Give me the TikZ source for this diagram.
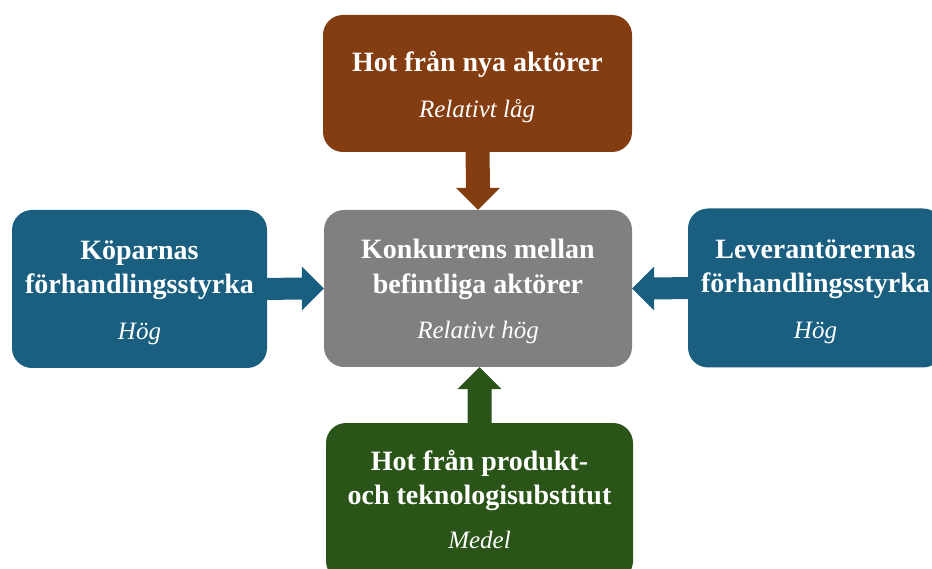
\documentclass[tikz,border=0pt]{standalone}
\usepackage{fontspec}
\setmainfont{Liberation Serif}
\usetikzlibrary{calc}
\definecolor{brn}{HTML}{843C11}
\definecolor{blu}{HTML}{1A5F80}
\definecolor{grn}{HTML}{2B5419}
\definecolor{gry}{HTML}{808080}
\tikzset{
  box/.style={rectangle, rounded corners=20pt, inner sep=0pt},
  hd/.style={text=white, font=\fontsize{28}{33}\selectfont\bfseries, anchor=base, inner sep=0pt},
  sub/.style={text=white, font=\fontsize{25}{30}\selectfont\itshape, anchor=base, inner sep=0pt},
}
\begin{document}
\begin{tikzpicture}[x=1pt,y=-1pt]
\useasboundingbox (0,0) rectangle (932,569);
\clip (0,0) rectangle (932,569);
% boxes
\node[box, fill=brn, minimum width=309pt, minimum height=137pt] (top) at (477.5,83.5) {};
\node[box, fill=gry, minimum width=308pt, minimum height=157pt] (center) at (478,288.5) {};
\node[box, fill=blu, minimum width=255pt, minimum height=158pt] (left) at (139.5,289) {};
\node[box, fill=blu, minimum width=255pt, minimum height=159pt] (right) at (815.5,288) {};
\node[box, fill=grn, minimum width=307pt, minimum height=158pt] (bottom) at (479.5,502) {};
% arrows
\fill[brn] ($(top.south)+(-12,-2)$) -- ($(center.north)+(-12,-22)$) -- ($(center.north)+(-22,-22)$) -- (center.north)
  -- ($(center.north)+(22,-22)$) -- ($(center.north)+(12,-22)$) -- ($(top.south)+(12,-2)$) -- cycle;
\fill[blu] ($(left.east)+(-2,-11)$) -- ($(center.west)+(-22,-11)$) -- ($(center.west)+(-22,-22)$) -- (center.west)
  -- ($(center.west)+(-22,22)$) -- ($(center.west)+(-22,11)$) -- ($(left.east)+(-2,11)$) -- cycle;
\fill[blu] ($(right.west)+(2,-11)$) -- ($(center.east)+(22,-11)$) -- ($(center.east)+(22,-22)$) -- (center.east)
  -- ($(center.east)+(22,22)$) -- ($(center.east)+(22,11)$) -- ($(right.west)+(2,11)$) -- cycle;
\coordinate (btip) at (center.south -| bottom.north);
\fill[grn] ($(bottom.north)+(-12,2)$) -- ($(btip)+(-12,22)$) -- ($(btip)+(-22,22)$) -- (btip)
  -- ($(btip)+(22,22)$) -- ($(btip)+(12,22)$) -- ($(bottom.north)+(12,2)$) -- cycle;
% texts
\node[hd] (t1) at (477.5,72) {Hot från nya aktörer};
\node[sub] (t2) at (477,118) {Relativt låg};
\node[hd] (c1) at (478,259) {Konkurrens mellan};
\node[hd] (c2) at (478,294) {befintliga aktörer};
\node[sub] (c3) at (478,338) {Relativt hög};
\node[hd] (l1) at (139.5,260) {Köparnas};
\node[hd] (l2) at (139.5,294) {förhandlingsstyrka};
\node[sub] (l3) at (139.5,340) {Hög};
\node[hd] (r1) at (815.5,259) {Leverantörernas};
\node[hd] (r2) at (815.5,293) {förhandlingsstyrka};
\node[sub] (r3) at (815.5,338) {Hög};
\node[hd] (b1) at (479.5,470) {Hot från produkt-};
\node[hd] (b2) at (479.5,504) {och teknologisubstitut};
\node[sub] (b3) at (479.5,548) {Medel};
\end{tikzpicture}
\end{document}
